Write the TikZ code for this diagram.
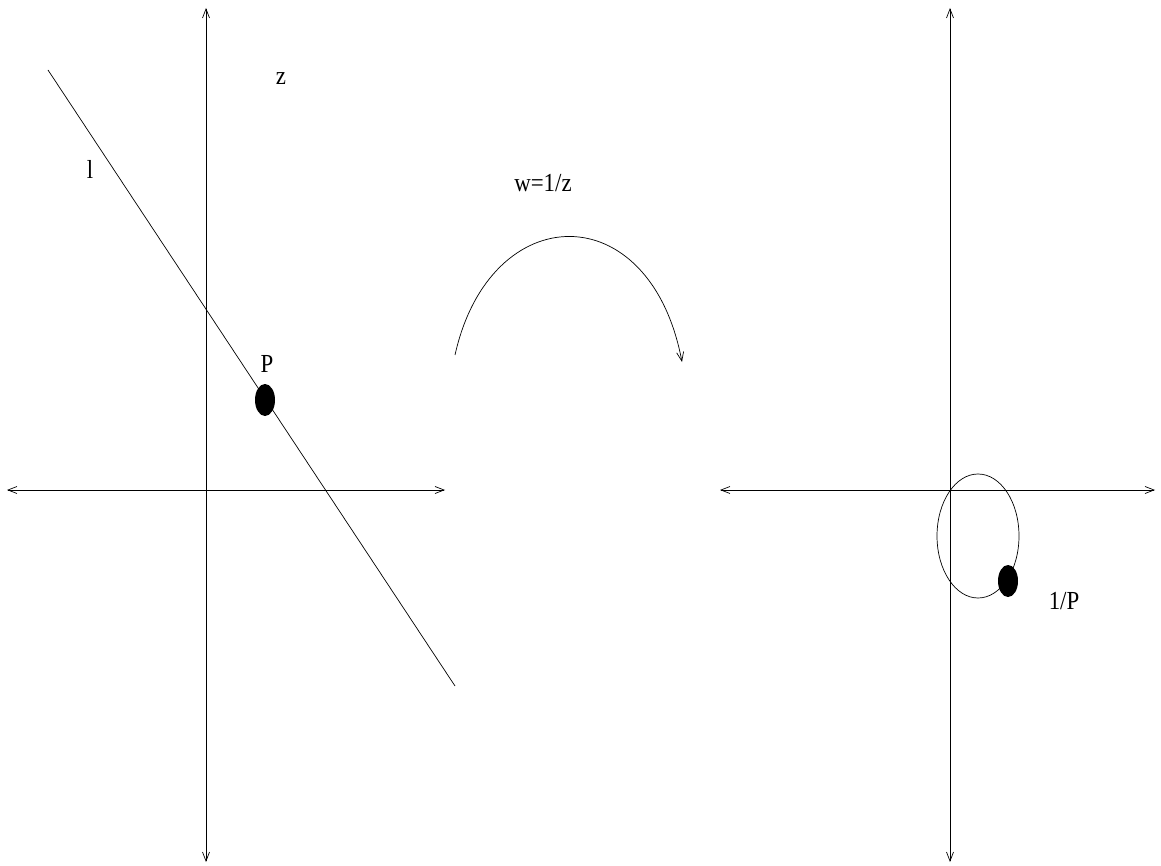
\documentclass[tikz,border=0pt]{standalone}
\usepackage{fontspec}
\setmainfont{Liberation Serif}
\usetikzlibrary{arrows.meta,shapes.geometric}
\newcommand{\cond}[1]{\scalebox{0.88}[1]{#1}}
\begin{document}
\begin{tikzpicture}[x=1pt,y=-1pt,
  axis/.style={line width=0.7pt,{Straight Barb[length=9pt,width=7pt]}-{Straight Barb[length=9pt,width=7pt]}},
  thin line/.style={line width=0.7pt},
  dot/.style={ellipse,fill=black,minimum width=20pt,minimum height=32pt,inner sep=0pt},
  lbl/.style={font=\fontsize{26}{28}\selectfont,inner sep=0pt}]
\useasboundingbox (0,0) rectangle (1161,866);
% left plane
\coordinate (LT) at (206,8);
\coordinate (LB) at (206,862);
\coordinate (LL) at (7,490);
\coordinate (LR) at (445,490);
\draw[axis] (LB) -- (LT);
\draw[axis] (LL) -- (LR);
\coordinate (l1) at (48,70);
\coordinate (l2) at (455,686);
\draw[thin line] (l1) -- (l2);
\node[dot] (P) at (265,400) {};
\node[lbl] (Plbl) at (267,364) {\cond{P}};
\node[lbl] (z) at (281,79) {\cond{z}};
\node[lbl] (l) at (90,169) {\cond{l}};
% mapping arrow
\node[lbl] (w) at (543,183) {\cond{w=1/z}};
\coordinate (a1) at (455,355);
\coordinate (a2) at (682,362);
\draw[thin line,-{Straight Barb[length=9pt,width=7pt]}] (a1) .. controls (490,198) and (650,194) .. (a2);
% right plane
\coordinate (RT) at (950,8);
\coordinate (RB) at (950,862);
\coordinate (RL) at (720,490);
\coordinate (RR) at (1155,490);
\draw[axis] (RB) -- (RT);
\draw[axis] (RL) -- (RR);
\draw[thin line] (978,536) ellipse [x radius=41, y radius=62];
\node[dot] (Q) at (1008,581) {};
\node[lbl] (Qlbl) at (1064,601) {\cond{1/P}};
\end{tikzpicture}
\end{document}
